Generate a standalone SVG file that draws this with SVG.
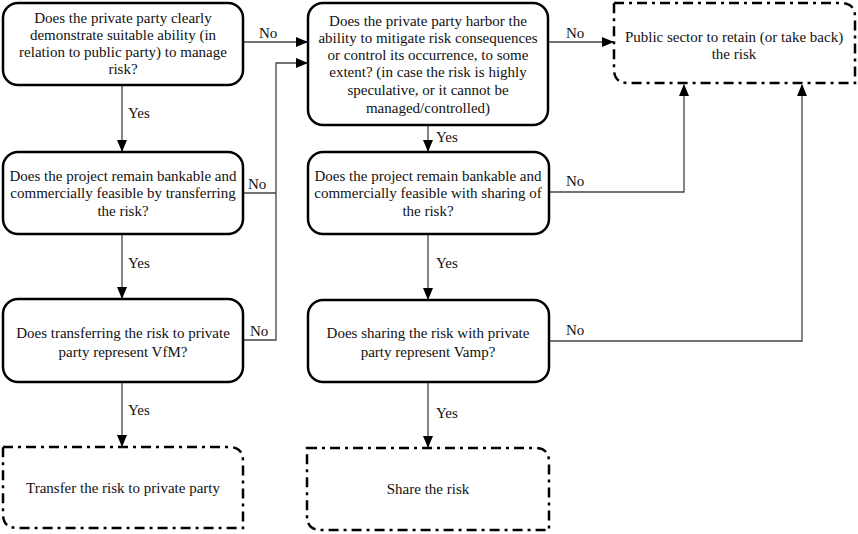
<svg xmlns="http://www.w3.org/2000/svg" width="858" height="534" viewBox="0 0 858 534">
<style>
.box{fill:#fff;stroke:#000;stroke-width:2.5}
.end{fill:#fff;stroke:#000;stroke-width:2.5;stroke-dasharray:10 5 3 5}
.t{font-family:"Liberation Serif","Times New Roman",serif;font-size:15px;fill:#111;text-anchor:middle}
.l{font-family:"Liberation Serif","Times New Roman",serif;font-size:15px;fill:#111}
.c{fill:none;stroke:#444;stroke-width:1.3}
</style>
<defs>
<marker id="ah" markerWidth="12" markerHeight="10" refX="11" refY="5" orient="auto" markerUnits="userSpaceOnUse">
<path d="M0,0 L12,5 L0,10 Z" fill="#000"/>
</marker>
</defs>
<g id="connectors">
<path class="c" d="M243,42 H307" marker-end="url(#ah)"/>
<path class="c" d="M243,193 H276 M243,340 H276 V63 H307" marker-end="url(#ah)"/>
<path class="c" d="M122,85 V151" marker-end="url(#ah)"/>
<path class="c" d="M122,234 V298" marker-end="url(#ah)"/>
<path class="c" d="M122,382 V446" marker-end="url(#ah)"/>
<path class="c" d="M428,125 V151" marker-end="url(#ah)"/>
<path class="c" d="M428,234 V299" marker-end="url(#ah)"/>
<path class="c" d="M428,382 V447" marker-end="url(#ah)"/>
<path class="c" d="M548,42 H613" marker-end="url(#ah)"/>
<path class="c" d="M549,192 H684 V85" marker-end="url(#ah)"/>
<path class="c" d="M549,341 H802 V85" marker-end="url(#ah)"/>
<text class="l" x="259" y="38">No</text>
<text class="l" x="128" y="118">Yes</text>
<text class="l" x="248" y="189">No</text>
<text class="l" x="128" y="268">Yes</text>
<text class="l" x="250" y="336">No</text>
<text class="l" x="128" y="415">Yes</text>
<text class="l" x="436" y="142">Yes</text>
<text class="l" x="436" y="268">Yes</text>
<text class="l" x="436" y="418">Yes</text>
<text class="l" x="566" y="38">No</text>
<text class="l" x="566" y="186">No</text>
<text class="l" x="566" y="335">No</text>
</g>
<g id="q1">
<rect class="box" x="3" y="3" width="240" height="82" rx="15"/>
<text class="t" x="123" y="23">Does the private party clearly</text>
<text class="t" x="123" y="40">demonstrate suitable ability (in</text>
<text class="t" x="123" y="57">relation to public party) to manage</text>
<text class="t" x="123" y="74">risk?</text>
</g>
<g id="q2">
<rect class="box" x="308" y="3" width="240" height="122" rx="15"/>
<text class="t" x="428" y="26">Does the private party harbor the</text>
<text class="t" x="428" y="43">ability to mitigate risk consequences</text>
<text class="t" x="428" y="60">or control its occurrence, to some</text>
<text class="t" x="428" y="77">extent? (in case the risk is highly</text>
<text class="t" x="428" y="95">speculative, or it cannot be</text>
<text class="t" x="428" y="113">managed/controlled)</text>
</g>
<g id="public">
<path class="end" d="M614,3 H841 Q855,3 855,17 V83 H628 Q614,83 614,69 Z"/>
<text class="t" x="734" y="42">Public sector to retain (or take back)</text>
<text class="t" x="734" y="59">the risk</text>
</g>
<g id="q3">
<rect class="box" x="3" y="152" width="240" height="82" rx="15"/>
<text class="t" x="123" y="181">Does the project remain bankable and</text>
<text class="t" x="123" y="198">commercially feasible by transferring</text>
<text class="t" x="123" y="216">the risk?</text>
</g>
<g id="q4">
<rect class="box" x="308" y="152" width="241" height="82" rx="15"/>
<text class="t" x="428" y="181">Does the project remain bankable and</text>
<text class="t" x="428" y="198">commercially feasible with sharing of</text>
<text class="t" x="428" y="216">the risk?</text>
</g>
<g id="q5">
<rect class="box" x="3" y="299" width="240" height="83" rx="15"/>
<text class="t" x="123" y="338">Does transferring the risk to private</text>
<text class="t" x="123" y="357">party represent VfM?</text>
</g>
<g id="q6">
<rect class="box" x="308" y="300" width="241" height="82" rx="15"/>
<text class="t" x="428" y="338">Does sharing the risk with private</text>
<text class="t" x="428" y="357">party represent Vamp?</text>
</g>
<g id="transfer">
<path class="end" d="M3,447 H229 Q243,447 243,461 V528 H17 Q3,528 3,514 Z"/>
<text class="t" x="123" y="493">Transfer the risk to private party</text>
</g>
<g id="share">
<path class="end" d="M307,448 H535 Q549,448 549,462 V530 H321 Q307,530 307,516 Z"/>
<text class="t" x="428" y="494">Share the risk</text>
</g>
</svg>
